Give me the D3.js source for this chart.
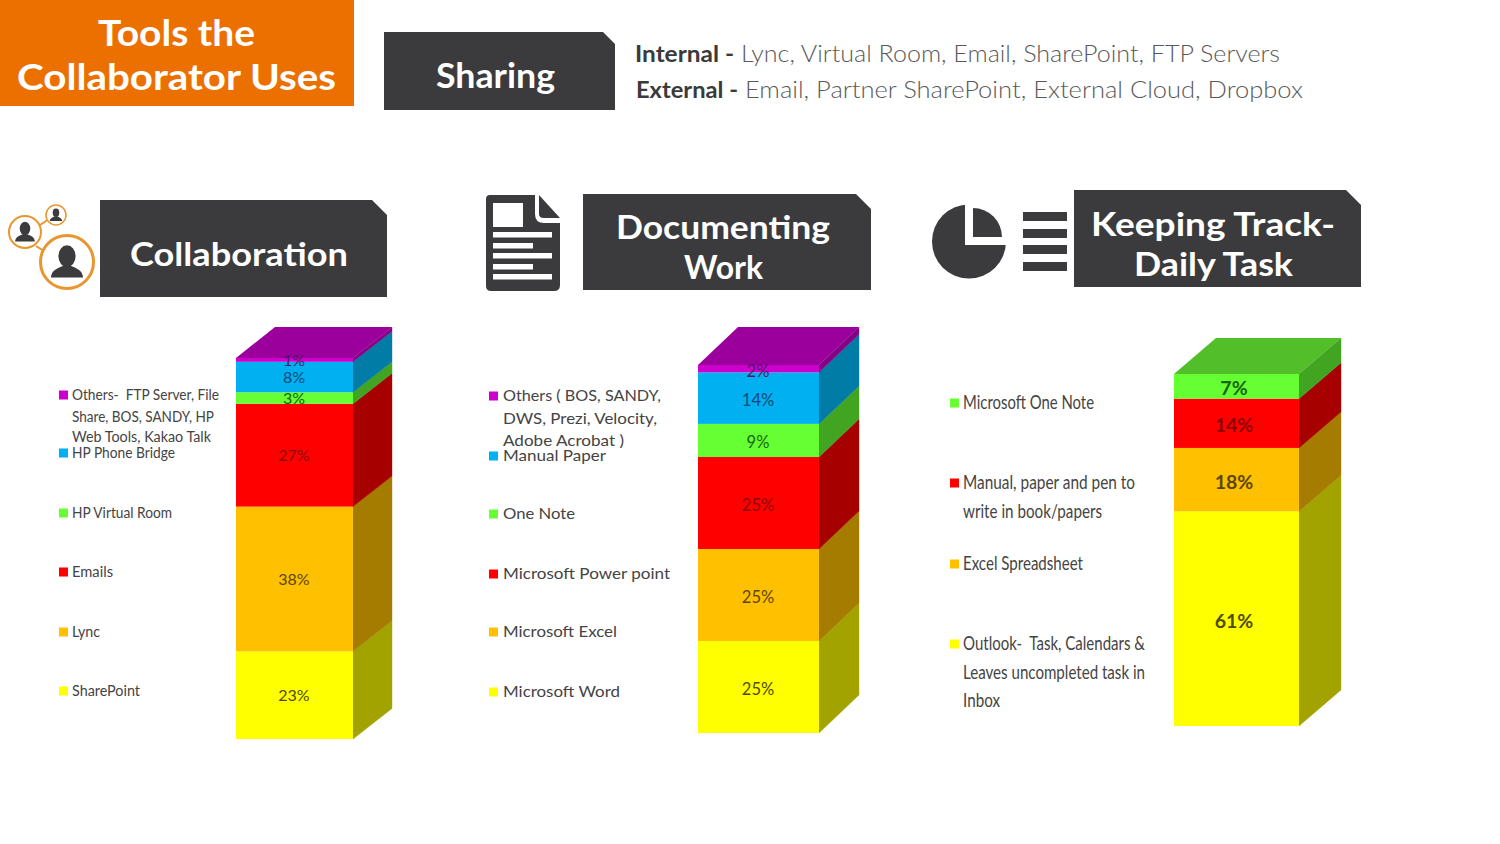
<!DOCTYPE html>
<html><head><meta charset="utf-8">
<script src="https://cdn.jsdelivr.net/npm/d3@7"></script>
<style>html,body{margin:0;padding:0;background:#fff;overflow:hidden}svg{display:block}</style>
</head><body><svg id="c" width="1500" height="844"></svg>
<script>
// ---------- data ----------
const collabSeries = ["SharePoint","Lync","Emails","HP Virtual Room","HP Phone Bridge","Others"];
const collabValues = [23,38,27,3,8,1];
const docSeries = ["Microsoft Word","Microsoft Excel","Microsoft Power point","One Note","Manual Paper","Others"];
const docValues = [25,25,25,9,14,2];
const trackSeries = ["Outlook","Excel Spreadsheet","Manual, paper and pen","Microsoft One Note"];
const trackValues = [61,18,14,7];
const collabLegend = [["SharePoint"],["Lync"],["Emails"],["HP Virtual Room"],["HP Phone Bridge"],["Others-  FTP Server, File","Share, BOS, SANDY, HP","Web Tools, Kakao Talk"]];
const docLegend = [["Microsoft Word"],["Microsoft Excel"],["Microsoft Power point"],["One Note"],["Manual Paper"],["Others ( BOS, SANDY,","DWS, Prezi, Velocity,","Adobe Acrobat )"]];
const trackLegend = [["Outlook-  Task, Calendars &","Leaves uncompleted task in","Inbox"],["Excel Spreadsheet"],["Manual, paper and pen to","write in book/papers"],["Microsoft One Note"]];
const sharingInternal = "Lync, Virtual Room, Email, SharePoint, FTP Servers";
const sharingExternal = "Email, Partner SharePoint, External Cloud, Dropbox";

// ---------- style ----------
const front = ["#ffff00","#ffc000","#ff0000","#66ff33","#00b0f0","#cc00cc"];
const side  = ["#a3a300","#a67c00","#a60000","#42a521","#007ca6","#850085"];
const ink   = ["#4d4d00","#5c4500","#8f0000","#17660a","#0b4a78","#4a1a66"];
const trackFront = ["#ffff00","#ffc000","#ff0000","#66ff33"];
const trackSide  = ["#a3a300","#a67c00","#a60000","#42a521"];
const trackInk   = ["#4d4d00","#5c4500","#8f0000","#17660a"];
const dark = "#3b3b3d";
const svg = d3.select("#c");

function fitted(g,str,x,y,w,size,fill,weight,family){
  return g.append("text").attr("x",x).attr("y",y).attr("font-size",size).attr("fill",fill)
    .attr("font-weight",weight||400).attr("font-family",family)
    .attr("textLength",w).attr("lengthAdjust","spacingAndGlyphs")
    .attr("xml:space","preserve").text(str);
}
function plaque(x0,y0,x1,y1,n){
  svg.append("path").attr("fill",dark)
    .attr("d",d3.line()([[x0,y0],[x1-n,y0],[x1,y0+n],[x1,y1],[x0,y1]])+"Z");
}
const HEAD = "Lato, 'Open Sans', sans-serif";

// ---------- header ----------
svg.append("rect").attr("x",0).attr("y",0).attr("width",354).attr("height",106).attr("fill","#ec7000");
fitted(svg,"Tools the",98,46,157,36,"#fff",700,HEAD);
fitted(svg,"Collaborator Uses",17,90,319,36,"#fff",700,HEAD);
plaque(384,32,615,110,12);
fitted(svg,"Sharing",436,88,119,35,"#fff",700,HEAD);
fitted(svg,"Internal -",635,62,99,23,"#3a3a3a",700,HEAD);
fitted(svg,sharingInternal,741,62,539,24,"#595959",300,HEAD);
fitted(svg,"External -",636,98,102,23,"#3a3a3a",700,HEAD);
fitted(svg,sharingExternal,745,98,558,24,"#595959",300,HEAD);

plaque(100,200,387,297,15);
fitted(svg,"Collaboration",130,266,218,33,"#fff",700,HEAD);
plaque(583,194,871,290,15);
fitted(svg,"Documenting",616,239,214,33,"#fff",700,HEAD);
fitted(svg,"Work",684,279,79,33,"#fff",700,HEAD);
plaque(1074,190,1361,287,15);
fitted(svg,"Keeping Track-",1091,236,244,33,"#fff",700,HEAD);
fitted(svg,"Daily Task",1134,276,159,33,"#fff",700,HEAD);

// ---------- icons ----------
function person(cx,cy,r){
  const g=svg.append("g").attr("fill",dark);
  g.append("ellipse").attr("cx",cx).attr("cy",cy-r*.22).attr("rx",r*.33).attr("ry",r*.42);
  g.append("path").attr("d",`M${cx-r*.62},${cy+r*.6} C${cx-r*.6},${cy+r*.28} ${cx-r*.3},${cy+r*.22} ${cx-r*.14},${cy+r*.14} L${cx+r*.14},${cy+r*.14} C${cx+r*.3},${cy+r*.22} ${cx+r*.6},${cy+r*.28} ${cx+r*.62},${cy+r*.6} Z`);
}
const net=svg.append("g").attr("fill","#fff").attr("stroke","#e8962e");
net.append("path").attr("fill","none").attr("stroke-width",2).attr("d","M40,225 L49,219 M36,246 L44,251");
net.append("circle").attr("cx",25).attr("cy",232).attr("r",16).attr("stroke-width",2);
net.append("circle").attr("cx",56).attr("cy",215).attr("r",10).attr("stroke-width",1.5);
net.append("circle").attr("cx",67).attr("cy",262).attr("r",26.5).attr("stroke-width",3);
person(25,232,16);person(56,215,10);person(67,262,26);

svg.append("path").attr("fill",dark).attr("d","M490,195 H535 V214 Q535,223 544,223 H560 V285 Q560,291 554,291 H491 Q486,291 486,286 V199 Q486,195 490,195 Z");
svg.append("path").attr("fill",dark).attr("d","M539,195 L560,218 H544 Q539,218 539,214 Z");
const docIcon=svg.append("g").attr("fill","#fff");
docIcon.append("rect").attr("x",493).attr("y",203).attr("width",30).attr("height",24);
[[232,59],[243,40],[253,59],[264,40],[274,59]].forEach(([y,w])=>docIcon.append("rect").attr("x",493).attr("y",y).attr("width",w).attr("height",5.5));

svg.append("circle").attr("cx",969).attr("cy",241.5).attr("r",37).attr("fill",dark);
svg.append("rect").attr("x",965).attr("y",200).attr("width",45).attr("height",45).attr("fill","#fff");
svg.append("path").attr("transform","translate(973,237)").attr("fill",dark)
  .attr("d",d3.arc()({innerRadius:0,outerRadius:29,startAngle:0,endAngle:Math.PI/2}));
[212,229,245,262].forEach(y=>svg.append("rect").attr("x",1023).attr("y",y).attr("width",44).attr("height",9).attr("fill",dark));

// ---------- stacked bars ----------
function bar(o){
  const y=d3.scaleLinear().domain([0,100]).range([o.bottom,o.top]);
  const keys=o.series.map((_,i)=>i);
  const row={};o.values.forEach((v,i)=>row[i]=v);
  const layers=d3.stack().keys(keys)([row]);
  const g=svg.append("g");
  g.selectAll("path.side").data(layers).join("path").attr("class","side")
    .attr("fill",(d,i)=>o.side[i]).attr("stroke",(d,i)=>o.side[i]).attr("stroke-width",.4)
    .attr("d",d=>{const a=y(d[0][0]),b=y(d[0][1]);
      return d3.line()([[o.x1,a],[o.x1+o.dx,a-o.dy],[o.x1+o.dx,b-o.dy],[o.x1,b]])+"Z";});
  g.append("path").attr("fill",o.topFill)
    .attr("d",d3.line()([[o.x0,o.top],[o.x0+o.dx,o.top-o.topDy],[o.x1+o.dx,o.top-o.topDy],[o.x1+o.dx,o.top-o.dy],[o.x1,o.top]])+"Z");
  g.selectAll("rect.front").data(layers).join("rect").attr("class","front")
    .attr("x",o.x0).attr("width",o.x1-o.x0)
    .attr("y",d=>y(d[0][1])).attr("height",d=>y(d[0][0])-y(d[0][1]))
    .attr("fill",(d,i)=>o.front[i]);
  g.selectAll("text").data(layers).join("text")
    .attr("x",(o.x0+o.x1)/2+(o.labelDx||0)).attr("y",d=>(y(d[0][0])+y(d[0][1]))/2+o.labelSize*.36+(o.labelDy||0))
    .attr("text-anchor","middle").attr("font-family",HEAD).attr("font-size",o.labelSize)
    .attr("font-weight",o.labelWeight||400)
    .attr("fill",(d,i)=>o.ink[i]).text(d=>d[0].data[d.key]+"%");
}
bar({series:collabSeries,values:collabValues,x0:236,x1:353,bottom:739,top:358,dx:39,dy:30.5,topDy:31,front,side,ink,topFill:"#9c009c",labelSize:16,labelDx:-.5,labelDy:.5});
bar({series:docSeries,values:docValues,x0:698,x1:819,bottom:733,top:365,dx:40,dy:38,topDy:38,front,side,ink,topFill:"#9c009c",labelSize:16.5,labelDx:-.5,labelDy:2});
bar({series:trackSeries,values:trackValues,x0:1174,x1:1299,bottom:726,top:374,dx:42,dy:36,topDy:36,front:trackFront,side:trackSide,ink:trackInk,topFill:"#52bf2a",labelSize:19.5,labelWeight:700,labelDx:-2.5,labelDy:2});

// ---------- legends ----------
function legend(o){
  const g=svg.append("g");
  o.lines.forEach((lines,i)=>{
    const layout=o.layout[i];
    g.append("rect").attr("x",o.mx).attr("y",layout[0][0]-o.mUp-o.msize/2).attr("width",o.msize).attr("height",o.msize).attr("fill",o.colors[i]);
    lines.forEach((t,j)=>fitted(g,t,o.tx,layout[j][0],layout[j][1],o.size,"#444",400,HEAD));
  });
}
legend({lines:collabLegend,colors:front,mx:59,tx:72,msize:9,mUp:5,size:15.5,
  layout:[[[696,68]],[[637,28]],[[577,41]],[[518,100]],[[458,103]],[[400,147],[422,142],[442,139]]]});
legend({lines:docLegend,colors:front,mx:489,tx:503,msize:9,mUp:5,size:16,
  layout:[[[697,117]],[[637,114]],[[579,167]],[[519,72]],[[461,103]],[[401,158],[424,154],[446,121]]]});
legend({lines:trackLegend,colors:trackFront,mx:950,tx:963,msize:9,mUp:6,size:20,
  layout:[[[650,182],[679,182],[707,37]],[[570,120]],[[489,172],[518,139]],[[409,131]]]});
</script></body></html>
